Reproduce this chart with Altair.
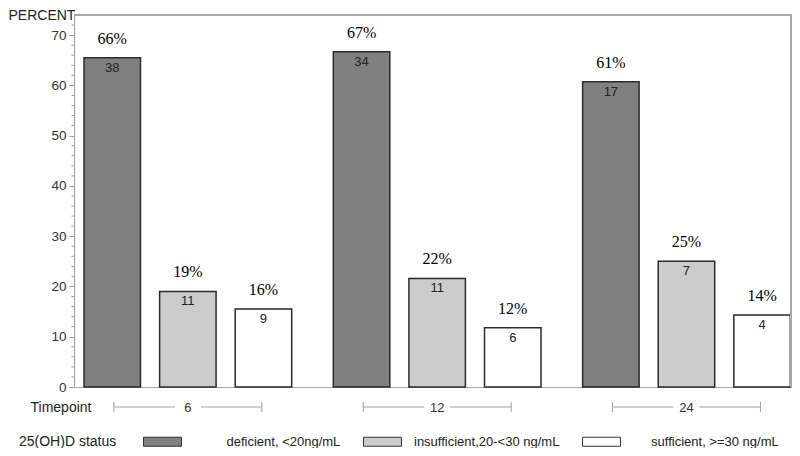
import altair as alt
import pandas as pd

# ---- data ----
timepoints = ["6", "12", "24"]
statuses = ["deficient, <20ng/mL", "insufficient,20-<30 ng/mL", "sufficient, >=30 ng/mL"]
deficient_pct = [65.5, 66.7, 60.7]
insufficient_pct = [19.0, 21.6, 25.0]
sufficient_pct = [15.5, 11.8, 14.3]
deficient_n = [38, 34, 17]
insufficient_n = [11, 11, 7]
sufficient_n = [9, 6, 4]
deficient_lbl = ["66%", "67%", "61%"]
insufficient_lbl = ["19%", "22%", "25%"]
sufficient_lbl = ["16%", "12%", "14%"]
bar_colors = ["#808080", "#cccccc", "#ffffff"]
major_ticks = [0, 10, 20, 30, 40, 50, 60, 70]
minor_ticks = [2, 4, 6, 8, 12, 14, 16, 18, 22, 24, 26, 28, 32, 34, 36, 38,
               42, 44, 46, 48, 52, 54, 56, 58, 62, 64, 66, 68, 72]
y_range = [0, 74]

rows = []
for st, pcts, ns, lbls in [
    (statuses[0], deficient_pct, deficient_n, deficient_lbl),
    (statuses[1], insufficient_pct, insufficient_n, insufficient_lbl),
    (statuses[2], sufficient_pct, sufficient_n, sufficient_lbl),
]:
    for tp, p, n, l in zip(timepoints, pcts, ns, lbls):
        rows.append({"timepoint": tp, "status": st, "percent": p, "count": str(n), "plabel": l})
df = pd.DataFrame(rows)
tp_df = pd.DataFrame({"timepoint": timepoints})
minor_df = pd.DataFrame({"percent": minor_ticks})
top_df = pd.DataFrame({"percent": [y_range[1]]})
side_df = pd.DataFrame({"percent": [y_range[0]], "top": [y_range[1]]})

SANS = "Liberation Sans, Arial, Helvetica, sans-serif"
SERIF = "Liberation Serif, Times New Roman, serif"
GRID = "#a0a0a0"
FRAME = "#a8a8a8"
W, H = 718, 372

x = alt.X(
    "timepoint:N",
    sort=timepoints,
    scale=alt.Scale(domain=timepoints, paddingInner=0.167, paddingOuter=0.0235, align=0.855),
    axis=alt.Axis(
        title="Timepoint", titleX=-44, titleY=20, titleAlign="left", titleBaseline="middle",
        titleFont=SANS, titleFontSize=14, titleFontWeight="normal", titleColor="#222",
        domain=False, ticks=False, tickSize=0, labelPadding=20, labelBaseline="middle",
        labelAngle=0, labelFont=SANS, labelFontSize=13, labelColor="#333",
    ),
)
xoff = alt.XOffset(
    "status:N", sort=statuses,
    scale=alt.Scale(domain=statuses, paddingInner=0.253, paddingOuter=0),
)
y = alt.Y(
    "percent:Q",
    scale=alt.Scale(domain=y_range, nice=False, zero=True),
    axis=alt.Axis(
        values=major_ticks, grid=False, domainColor=GRID, tickColor=GRID, tickSize=5,
        labelFont=SANS, labelFontSize=13.5, labelColor="#333", labelPadding=3,
        title="PERCENT", titleAngle=0, titleX=-66, titleY=-7, titleAlign="left",
        titleBaseline="top", titleFont=SANS, titleFontSize=14, titleFontWeight="normal",
        titleColor="#222",
    ),
)

zw = "\u200b"
nb = "\u00a0"
label_expr = (
    f"indexof(datum.value, 'deficient') == 0 ? '{zw}{nb * 9}' + datum.label : "
    f"indexof(datum.value, 'sufficient') == 0 ? '{zw}{nb * 5}' + datum.label : datum.label"
)

color = alt.Color(
    "status:N",
    sort=statuses,
    scale=alt.Scale(domain=statuses, range=bar_colors),
    legend=alt.Legend(
        title="25(OH)D status", orient="none", legendX=-55, legendY=407,
        direction="horizontal", columns=3, titleOrient="left", titlePadding=26,
        titleAnchor="middle", titleBaseline="top",
        titleFont=SANS, titleFontSize=14, titleFontWeight="normal", titleColor="#222",
        symbolType="M-1,-0.237H1V0.237H-1Z", symbolSize=1444, symbolStrokeColor="#333",
        symbolStrokeWidth=1, symbolOpacity=1, labelOffset=12, columnPadding=20,
        labelFont=SANS, labelFontSize=13, labelColor="#222", labelExpr=label_expr,
        labelLimit=400, padding=0,
    ),
)

# plot frame: top and right edges drawn through the y scale
frame_top = alt.Chart(top_df).mark_rule(color=FRAME, strokeWidth=2).encode(
    y=y, x=alt.value(0), x2=alt.value(W)
)
frame_right = alt.Chart(side_df).mark_rule(color=FRAME, strokeWidth=2).encode(
    y=y, y2=alt.Y2("top:Q"), x=alt.value(W - 1)
)

bars = alt.Chart(df).mark_bar(stroke="#2a2a2a", strokeWidth=1.5, opacity=1).encode(
    x=x, xOffset=xoff, y=y, fill=color
)
pct_text = alt.Chart(df).mark_text(
    font=SERIF, fontSize=16, color="#000", baseline="alphabetic", dy=-14
).encode(x=x, xOffset=xoff, y=y, text="plabel:N")
n_text = alt.Chart(df).mark_text(
    font=SANS, fontSize=13, color="#222", baseline="alphabetic", dy=14
).encode(x=x, xOffset=xoff, y=y, text="count:N")

minor = alt.Chart(minor_df).mark_rule(color=GRID, strokeWidth=1).encode(
    y=y, x=alt.value(-2.5), x2=alt.value(0)
)

left_seg = alt.Chart(tp_df).mark_rule(color=GRID, strokeWidth=1, xOffset=-74, x2Offset=-13).encode(
    x=x, x2=alt.X2("timepoint:N"), y=alt.value(392)
)
right_seg = alt.Chart(tp_df).mark_rule(color=GRID, strokeWidth=1, xOffset=13, x2Offset=74).encode(
    x=x, x2=alt.X2("timepoint:N"), y=alt.value(392)
)
left_end = alt.Chart(tp_df).mark_rule(color=GRID, strokeWidth=1, xOffset=-74).encode(
    x=x, y=alt.value(387), y2=alt.value(397)
)
right_end = alt.Chart(tp_df).mark_rule(color=GRID, strokeWidth=1, xOffset=74).encode(
    x=x, y=alt.value(387), y2=alt.value(397)
)

chart = alt.layer(
    bars, pct_text, n_text, minor, frame_top, frame_right,
    left_seg, right_seg, left_end, right_end
).properties(
    width=W, height=H,
    padding={"left": 66, "top": 7, "right": 0, "bottom": 61},
    autosize=alt.AutoSizeParams(type="none"),
    background="white",
).configure_view(stroke=FRAME, strokeWidth=1)

chart.save("out.html", embed_options={"renderer": "svg", "actions": False})
